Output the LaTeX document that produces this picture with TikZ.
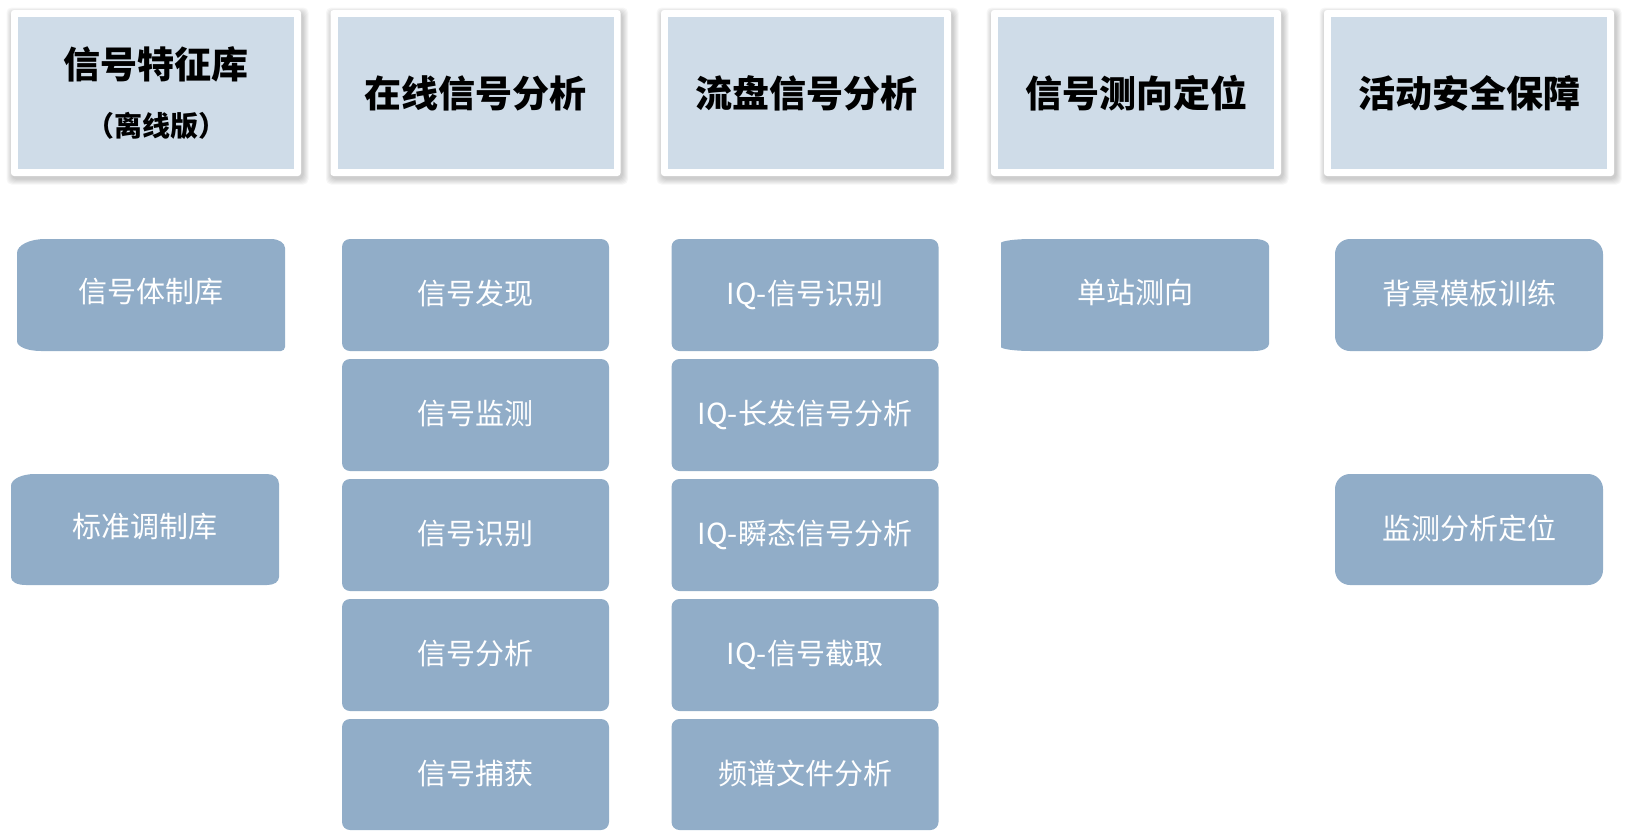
\documentclass[tikz,border=0pt]{standalone}
\usepackage{fontspec}
\setmainfont{Noto Sans CJK SC}
\definecolor{hdrblue}{HTML}{CFDCE8}
\definecolor{boxblue}{HTML}{91ADC8}
\tikzset{
  hdrouter/.style={fill=white, rounded corners=3pt, minimum width=290pt, minimum height=166pt,
    inner sep=0pt, outer sep=0pt},
  hdrshadow/.style={fill=black, opacity=0.035, rounded corners=5pt},
  hdrinner/.style={fill=hdrblue, minimum width=276pt, minimum height=152pt, inner sep=0pt,
    text=black, font=\fontsize{37}{40}\selectfont\bfseries},
  hdrtext/.style={inner sep=0pt, text=black, font=\fontsize{37}{40}\selectfont\bfseries},
  hdrsub/.style={inner sep=0pt, text=black, font=\fontsize{28}{30}\selectfont\bfseries},
  bluebox/.style={fill=boxblue, rounded corners=8pt, minimum width=267pt, minimum height=112pt,
    inner sep=0pt, text=white, font=\fontsize{29}{32}\selectfont, text depth=0.48em},
  roundbox/.style={bluebox, rounded corners=15pt, minimum width=268pt},
  boxshape/.style={fill=boxblue},
  boxtext/.style={inner sep=0pt, text=white, font=\fontsize{29}{32}\selectfont},
}
\begin{document}
\begin{tikzpicture}[x=1pt,y=-1pt]
\useasboundingbox (0,0) rectangle (1626,836);

% ---------- header shadows ----------
\foreach \cx in {156,475.5,806,1136,1469}{
  \foreach \s in {1,2,3,4,5,6}{
    \fill[hdrshadow] (\cx-145-\s+1.5,10-\s+3.5) rectangle (\cx+145+\s+1.5,176+\s+2.5);
  }
}

% ---------- headers ----------
\node[hdrouter] (h1o) at (156,93) {};
\node[hdrinner] (h1) at (156,93) {};
\node[hdrtext] (h1t) at (156,64) {信号特征库};
\node[hdrsub] (h1s) at (156,126) {（离线版）};

\node[hdrouter] (h2o) at (475.5,93) {};
\node[hdrinner] (h2) at (475.5,93) {在线信号分析};

\node[hdrouter] (h3o) at (806,93) {};
\node[hdrinner] (h3) at (806,93) {流盘信号分析};

\node[hdrouter] (h4o) at (1136,93) {};
\node[hdrinner] (h4) at (1136,93) {信号测向定位};

\node[hdrouter] (h5o) at (1469,93) {};
\node[hdrinner] (h5) at (1469,93) {活动安全保障};

% ---------- column 1 ----------
\fill[boxshape] (17,253) .. controls (17,245) and (30,239) .. (45,239) -- (271,239)
  .. controls (279,239) and (285,243) .. (285,248) -- (285,347)
  .. controls (285,349) and (283,351) .. (281,351) -- (41,351)
  .. controls (28,351) and (17,347) .. (17,341) -- cycle;
\node[boxtext] (b11) at (151,292) {信号体制库};

\fill[boxshape] (11,486) .. controls (11,479) and (22,474) .. (35,474) -- (267,474)
  .. controls (274,474) and (279,478) .. (279,484) -- (279,577)
  .. controls (279,582) and (274,585) .. (267,585) -- (26,585)
  .. controls (17,585) and (11,582) .. (11,577) -- cycle;
\node[boxtext] (b12) at (145,526.5) {标准调制库};

% ---------- column 2 ----------
\node[bluebox] (b21) at (475.5,295) {信号发现};
\node[bluebox] (b22) at (475.5,415) {信号监测};
\node[bluebox] (b23) at (475.5,535) {信号识别};
\node[bluebox] (b24) at (475.5,655) {信号分析};
\node[bluebox, minimum height=111pt] (b25) at (475.5,774.5) {信号捕获};

% ---------- column 3 ----------
\node[bluebox] (b31) at (805,295) {IQ-信号识别};
\node[bluebox] (b32) at (805,415) {IQ-长发信号分析};
\node[bluebox] (b33) at (805,535) {IQ-瞬态信号分析};
\node[bluebox] (b34) at (805,655) {IQ-信号截取};
\node[bluebox, minimum height=111pt] (b35) at (805,774.5) {频谱文件分析};

% ---------- column 4 ----------
\fill[boxshape] (1001,243) .. controls (1001,241) and (1015,239) .. (1031,239) -- (1254,239)
  .. controls (1263,239) and (1269,242) .. (1269,246) -- (1269,344)
  .. controls (1269,348) and (1263,351) .. (1254,351) -- (1031,351)
  .. controls (1015,351) and (1001,349) .. (1001,347) -- cycle;
\node[boxtext] (b41) at (1135,292) {单站测向};

% ---------- column 5 ----------
\node[roundbox] (b51) at (1469,295) {背景模板训练};
\node[roundbox, minimum height=111pt] (b52) at (1469,529.5) {监测分析定位};

\end{tikzpicture}
\end{document}
